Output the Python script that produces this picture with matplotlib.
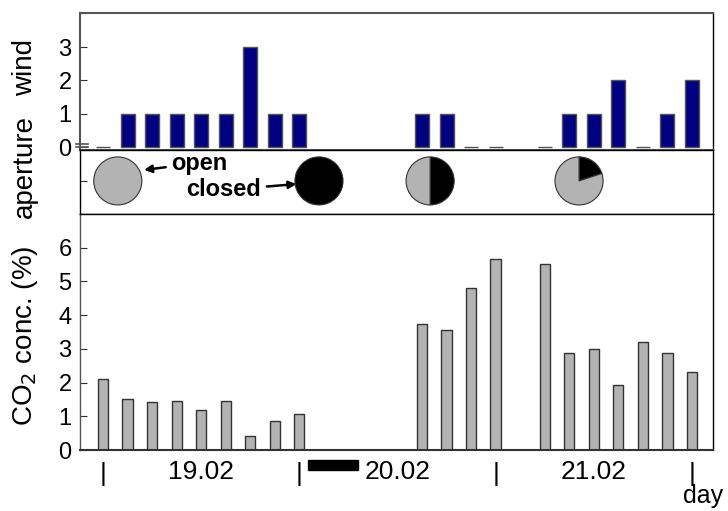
#!/usr/bin/env python3
import matplotlib
matplotlib.use('Agg')
import matplotlib.pyplot as plt
from matplotlib.patches import Rectangle

# 3-hour slots, 8 per day, slot 0 = start of 19.02
wind_slots = [0, 1, 2, 3, 4, 5, 6, 7, 8, 13, 14, 15, 16, 18, 19, 20, 21, 22, 23, 24]
wind_values = [0, 1, 1, 1, 1, 1, 3, 1, 1, 1, 1, 0, 0, 0, 1, 1, 2, 0, 1, 2]

co2_slots = [0, 1, 2, 3, 4, 5, 6, 7, 8, 13, 14, 15, 16, 18, 19, 20, 21, 22, 23, 24]
co2_values = [2.1, 1.5, 1.42, 1.45, 1.18, 1.45, 0.42, 0.85, 1.07,
              3.75, 3.55, 4.8, 5.68, 5.53, 2.88, 3.0, 1.93, 3.2, 2.88, 2.3]

# aperture pies: position (slot) and (open, closed) share
pie_slots = [0.6, 8.8, 13.33, 19.4]
pie_open = [1.0, 0.0, 0.5, 0.8]
pie_closed = [0.0, 1.0, 0.5, 0.2]

day_labels = ['19.02', '20.02', '21.02']
day_edges = [0, 8, 16, 24]
night = (8.37, 10.41)

XLIM = (-0.94, 24.86)
GRAY = '#b3b3b3'


def main() -> None:
	plt.rcParams['font.family'] = ['Liberation Sans', 'DejaVu Sans']
	fig = plt.figure(figsize=(7.28, 5.11), dpi=100)

	left, width = 80 / 728, (713 - 80) / 728
	def box(top_px, bot_px):
		return [left, (511 - bot_px) / 511, width, (bot_px - top_px) / 511]

	ax_w = fig.add_axes(box(13, 150))
	ax_a = fig.add_axes(box(150, 214))
	ax_c = fig.add_axes(box(214, 450))

	# wind
	ax_w.bar(wind_slots, wind_values, width=0.57, color='#000080', edgecolor='#555555', linewidth=1)
	ax_w.set_ylim(-0.09, 4.02)
	ax_w.set_yticks([0, 1, 2, 3])
	for yb in (0.09, -0.01):
		ax_w.plot([-0.007, 0.012], [yb, yb], color='#555555', lw=1.2,
		          transform=ax_w.get_yaxis_transform(), clip_on=False)

	# aperture
	for x, op, cl in zip(pie_slots, pie_open, pie_closed):
		shares = [v for v in (cl, op) if v > 0]
		cols = [c for v, c in zip((cl, op), ('black', GRAY)) if v > 0]
		ax_a.pie(shares, colors=cols, center=(x, 1.35), radius=0.98,
		         startangle=90, counterclock=False, frame=True,
		         wedgeprops=dict(edgecolor='#333333', linewidth=0.8))
	ax_a.set_aspect('auto')
	ax_a.set_ylim(0, 64 / 24.5)
	ax_a.set_yticks([1.35])
	ax_a.set_yticklabels([''])
	arrow = dict(arrowstyle='-|>', color='black', lw=1.8, shrinkA=2, shrinkB=0, mutation_scale=11)
	ax_a.annotate('open', xy=(1.67, 1.8), xytext=(2.78, 2.08), fontsize=17, fontweight='bold',
	              va='center', ha='left', arrowprops=arrow)
	ax_a.annotate('closed', xy=(7.88, 1.22), xytext=(6.45, 0.98), fontsize=17, fontweight='bold',
	              va='center', ha='right', arrowprops=arrow)

	# CO2
	ax_c.bar(co2_slots, co2_values, width=0.42, color=GRAY, edgecolor='#333333', linewidth=1)
	ax_c.set_ylim(0, 7)
	ax_c.set_yticks(range(7))

	for ax in (ax_w, ax_a, ax_c):
		ax.set_xlim(*XLIM)
		ax.set_xticks([])
		ax.tick_params(axis='y', direction='in', length=5, labelsize=17, color='#333333', pad=6)
		for s in ax.spines.values():
			s.set_linewidth(1)
	for s in ('top', 'bottom', 'left'):
		ax_w.spines[s].set_color('#555555')
		ax_w.spines[s].set_linewidth(1.5)
	ax_c.spines['left'].set_color('#555555')
	ax_c.spines['bottom'].set_color('#333333')
	ax_c.spines['bottom'].set_linewidth(1.5)

	# day axis below
	xt = ax_c.get_xaxis_transform()
	for d in day_edges:
		ax_c.text(d, -0.102, '|', transform=xt, ha='center', va='center', fontsize=19, clip_on=False)
	for i, lab in enumerate(day_labels):
		ax_c.text(day_edges[i] + 4, -0.094, lab, transform=xt, ha='center', va='center', fontsize=19, clip_on=False)
	ax_c.add_patch(Rectangle((night[0], -0.085), night[1] - night[0], 0.043, transform=xt,
	                         color='black', clip_on=False))
	fig.text(683 / 728, 1 - 496 / 511, 'day', ha='left', va='center', fontsize=18)

	fig.text(25 / 728, 1 - 68 / 511, 'wind', rotation=90, ha='center', va='center', fontsize=20)
	fig.text(25 / 728, 1 - 166 / 511, 'aperture', rotation=90, ha='center', va='center', fontsize=20)
	fig.text(25 / 728, 1 - 336 / 511, 'CO$_2$ conc. (%)', rotation=90, ha='center', va='center', fontsize=20)

	fig.savefig('out.png', dpi=100)

if __name__ == '__main__':
	main()
